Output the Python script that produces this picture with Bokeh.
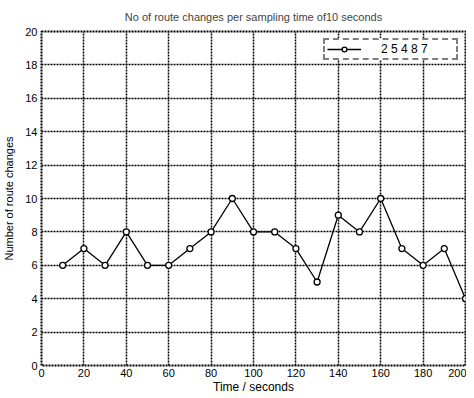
from bokeh.plotting import figure
from bokeh.models import Legend, LegendItem, FixedTicker, Range1d
from bokeh.embed import file_html
from bokeh.resources import INLINE

# Data
time_s = [10, 20, 30, 40, 50, 60, 70, 80, 90, 100,
          110, 120, 130, 140, 150, 160, 170, 180, 190, 200]
route_changes = [6, 7, 6, 8, 6, 6, 7, 8, 10, 8,
                 8, 7, 5, 9, 8, 10, 7, 6, 7, 4]
x_ticks = [0, 20, 40, 60, 80, 100, 120, 140, 160, 180, 200]
y_ticks = [0, 2, 4, 6, 8, 10, 12, 14, 16, 18, 20]
legend_label = "2 5 4 8 7"
title_text = "No of route changes per sampling time of10 seconds"

FONT = "Liberation Sans"

p = figure(frame_width=424, frame_height=334, output_backend="svg", toolbar_location=None,
           x_range=Range1d(0, 200), y_range=Range1d(0, 20),
           min_border_left=40, min_border_right=1, min_border_top=31,
           min_border_bottom=28, title=title_text)

p.title.text_font = FONT
p.title.text_font_size = "11px"
p.title.text_font_style = "normal"
p.title.text_line_height = 0.8
p.title.align = "center"
p.title.standoff = 17
p.title.offset = 0

p.outline_line_color = "black"
p.outline_line_width = 2
p.outline_line_dash = "2 1"
p.outline_line_alpha = 1

for ax in (p.xaxis[0], p.yaxis[0]):
    ax.axis_line_color = None
    ax.major_tick_line_color = None
    ax.minor_tick_line_color = None
    ax.major_tick_out = 0
    ax.major_tick_in = 0
    ax.minor_tick_out = 0
    ax.minor_tick_in = 0
    ax.major_label_text_font = FONT
    ax.major_label_text_font_size = "11px"
    ax.major_label_text_color = "black"
    ax.axis_label_text_font = FONT
    ax.axis_label_text_font_style = "normal"
    ax.axis_label_text_color = "black"

p.xaxis.axis_label_text_font_size = "12px"
p.yaxis.axis_label_text_font_size = "11px"
p.xaxis.ticker = FixedTicker(ticks=x_ticks)
p.yaxis.ticker = FixedTicker(ticks=y_ticks)
p.xaxis.axis_label = "Time / seconds"
p.yaxis.axis_label = "Number of route changes"
p.xaxis.major_label_standoff = 3
p.yaxis.major_label_standoff = 4
p.xaxis.axis_label_standoff = 0
p.yaxis.axis_label_standoff = 7

for g in (p.xgrid[0], p.ygrid[0]):
    g.grid_line_color = "black"
    g.grid_line_width = 1.5
    g.grid_line_dash = "2 1"
    g.grid_line_alpha = 1

ln = p.line(time_s, route_changes, line_color="black", line_width=1.3)
sc = p.scatter(time_s, route_changes, marker="circle", size=6,
               line_color="black", line_width=1.3, fill_color="white")

legend = Legend(items=[LegendItem(label=legend_label, renderers=[ln, sc])],
                location="top_right")
legend.label_text_font = FONT
legend.label_text_font_size = "12px"
legend.label_text_color = "black"
legend.border_line_color = "black"
legend.border_line_width = 2
legend.border_line_dash = "2 1"
legend.background_fill_color = "white"
legend.background_fill_alpha = 1
legend.glyph_width = 34
legend.glyph_height = 12
legend.label_height = 12
legend.label_width = 73
legend.label_standoff = 20
legend.padding = 2
legend.margin = 7
legend.spacing = 0
p.add_layout(legend)

open("out.html", "w").write(file_html(p, INLINE))
